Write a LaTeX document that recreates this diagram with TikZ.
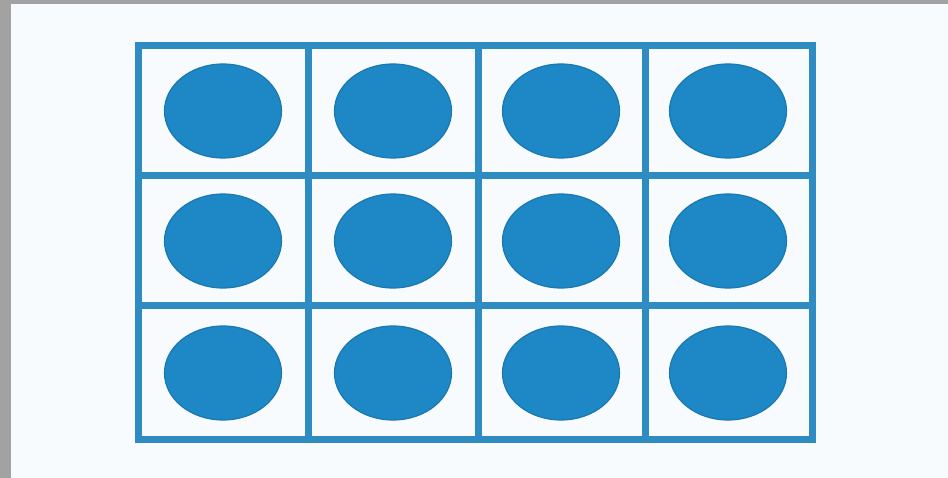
\documentclass[tikz,border=0pt]{standalone}
\definecolor{paper}{HTML}{F8FBFD}
\definecolor{edge}{HTML}{A2A2A2}
\definecolor{gridblue}{HTML}{2E8CC2}
\definecolor{dotblue}{HTML}{1E88C6}
\definecolor{dotedge}{HTML}{1B78AE}
\tikzset{
  gridline/.style={draw=gridblue, line width=7pt},
  counter/.style={ellipse, fill=dotblue, draw=dotedge, line width=1.2pt, minimum width=117pt, minimum height=94pt, inner sep=0pt},
}
\usetikzlibrary{shapes.geometric}
\begin{document}
\begin{tikzpicture}[x=1pt,y=-1pt]
\useasboundingbox (0,0) rectangle (948,478);
\fill[paper] (0,0) rectangle (948,478);
\fill[edge] (0,0) rectangle (11,478);
\fill[edge] (0,0) rectangle (948,4);
% grid
\draw[gridline] (138,46) rectangle (812,439);
\draw[gridline] (138,176) -- (812,176);
\draw[gridline] (138,306) -- (812,306);
\draw[gridline] (308,46) -- (308,439);
\draw[gridline] (478,46) -- (478,439);
\draw[gridline] (645,46) -- (645,439);
% counters
\foreach \c/\x in {1/223,2/393,3/561,4/728}{
  \foreach \r/\y in {1/111,2/241,3/373}{
    \node[counter] (d\r\c) at (\x,\y) {};
  }
}
\end{tikzpicture}
\end{document}
